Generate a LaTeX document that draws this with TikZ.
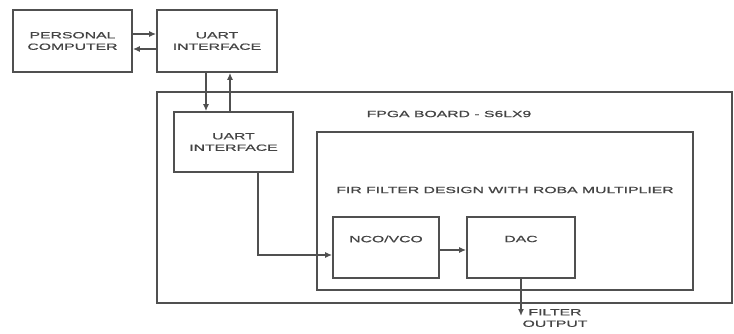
\documentclass[tikz,border=0pt]{standalone}
\usepackage{fontspec}
\setmainfont{Liberation Sans}[FakeStretch=1.75,FakeBold=0.8]
\usepackage{tikz}
\usetikzlibrary{arrows.meta,positioning}
\usepackage{xcolor}
\definecolor{linegray}{HTML}{505050}
\definecolor{textgray}{HTML}{444444}

\begin{document}
\begin{tikzpicture}[
  x=1pt, y=-1pt,
  font=\fontsize{9}{11.5}\selectfont,
  box/.style={draw=linegray,line width=1.7pt,align=center,text=textgray,inner sep=0pt},
  txt/.style={align=center,text=textgray,inner sep=0pt},
  arr/.style={-{Latex[length=7pt,width=6pt]},line width=1.4pt,draw=linegray}
]
\useasboundingbox (0,0) rectangle (734,334);
\node[box, minimum width=119pt, minimum height=62pt] (pc) at (72.5,41) {PERSONAL\\COMPUTER};
\node[box, minimum width=120pt, minimum height=62pt] (uart) at (217,41) {UART\\INTERFACE};
\node[box, minimum width=575pt, minimum height=211pt] (board) at (444.5,197.5) {};
\node[txt] (boardlbl) at (449,114) {FPGA BOARD - S6LX9};
\node[box, minimum width=119pt, minimum height=60pt] (uartin) at (233.5,142) {UART\\INTERFACE};
\node[box, minimum width=376pt, minimum height=158pt] (fir) at (505,211) {};
\node[txt] (firlbl) at (505,190) {FIR FILTER DESIGN WITH ROBA MULTIPLIER};
\node[box, minimum width=106pt, minimum height=61pt,
  label={[txt,yshift=8.5pt]center:NCO/VCO}] (nco) at (386,247.5) {};
\node[box, minimum width=108pt, minimum height=61pt,
  label={[txt,yshift=8.5pt]center:DAC}] (dac) at (521,247.5) {};
\coordinate (fout) at (521,316);
\node[txt] (folbl) at (555,318) {FILTER\\OUTPUT};
\draw[arr] ([yshift=7pt]pc.east) -- ([yshift=7pt]uart.west);
\draw[arr] ([yshift=-8pt]uart.west) -- ([yshift=-8pt]pc.east);
\draw[arr] ([xshift=-11pt]uart.south) -- ([xshift=-11pt]uart.south |- uartin.north);
\draw[arr] ([xshift=13pt]uart.south |- uartin.north) -- ([xshift=13pt]uart.south);
\draw[arr] ([xshift=24.5pt]uartin.south) |- ([yshift=-7.5pt]nco.west);
\draw[arr] ([yshift=-2.5pt]nco.east) -- ([yshift=-2.5pt]dac.west);
\draw[arr] (dac.south) -- (fout);
\end{tikzpicture}
\end{document}
